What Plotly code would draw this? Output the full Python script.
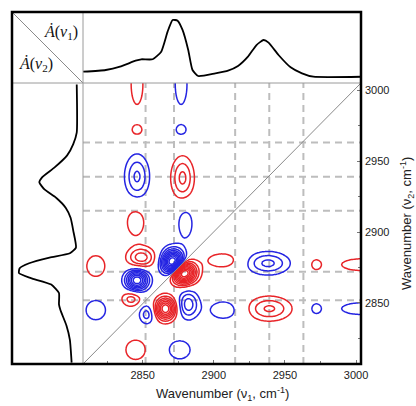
import numpy as np
import plotly.graph_objects as go

# ---------------- data ----------------
# 1D absorbance spectrum (wavenumber, normalised intensity)
spec_wn = [2808, 2824, 2834, 2845, 2849, 2857, 2863, 2867.5, 2871, 2874.5, 2878,
           2882, 2885, 2889, 2901, 2910, 2917, 2924, 2930, 2935, 2938.5, 2945.5,
           2954, 2962, 2970, 3004]
spec_int = [0.093, 0.123, 0.181, 0.286, 0.311, 0.311, 0.444, 0.795, 1.0, 0.988, 0.825,
            0.474, 0.123, 0.018, 0.065, 0.111, 0.193, 0.356, 0.561, 0.649, 0.602, 0.386,
            0.170, 0.065, 0.005, 0.005]

# asynchronous cross peaks (upper triangle, nu2 > nu1); mirrored with opposite sign
peak_nu1 = [2846, 2877, 2846, 2877, 2846, 2878, 2845, 2880, 2817, 2849, 2871.5, 2846, 2842, 2817]
peak_nu2 = [3004, 3004, 2972, 2972, 2939, 2938, 2907, 2906, 2876, 2882, 2877.5, 2866, 2853, 2845]
peak_amp = [1.8, -1.8, 1.5, -1.5, -3.2, 3.3, 1.6, -1.6, 1.6, 3.6, -13.0, -8.0, 2.5, -1.6]
peak_w1 = [3.8, 3.8, 3.6, 3.6, 5.8, 5.4, 6.0, 4.8, 6.5, 6.8, 5.2, 5.3, 5.0, 7.0]
peak_w2 = [13, 13, 3.4, 3.4, 10.5, 10.2, 9.5, 10, 7.5, 5.0, 6.2, 4.8, 4.0, 7.0]

grid_nu = [2852, 2872, 2915, 2939, 2963]
tick_vals = [2850, 2900, 2950, 3000]

# ---------------- 2D map ----------------
nu = np.arange(2800, 3020.01, 1.0)
X, Y = np.meshgrid(nu, nu)
Z = np.zeros_like(X)
for a, b, A, w1, w2 in zip(peak_nu1, peak_nu2, peak_amp, peak_w1, peak_w2):
    Z += A * np.exp(-((X - a) ** 2) / (2 * w1 ** 2) - ((Y - b) ** 2) / (2 * w2 ** 2))
    Z -= A * np.exp(-((Y - a) ** 2) / (2 * w1 ** 2) - ((X - b) ** 2) / (2 * w2 ** 2))

RED = "rgb(232,36,40)"
BLUE = "rgb(36,36,226)"
W, H = 416, 406


def fx(px):
    return px / W


def fy(py):
    return 1 - py / H


fig = go.Figure()
fig.add_trace(go.Contour(x=nu, y=nu, z=Z, contours=dict(coloring="none", start=1, end=15, size=1),
                         line=dict(color=RED, width=1.5), showscale=False, hoverinfo="skip"))
fig.add_trace(go.Contour(x=nu, y=nu, z=-Z, contours=dict(coloring="none", start=1, end=15, size=1),
                         line=dict(color=BLUE, width=1.5), showscale=False, hoverinfo="skip"))
fig.add_trace(go.Scatter(x=spec_wn, y=spec_int, mode="lines", xaxis="x2", yaxis="y2",
                         line=dict(color="black", width=1.8, shape="spline", smoothing=0.5)))
fig.add_trace(go.Scatter(x=spec_int, y=spec_wn, mode="lines", xaxis="x3", yaxis="y3",
                         line=dict(color="black", width=1.8, shape="spline", smoothing=0.5)))

xr = [2808, 3003.5]
yr = [2807, 3005]
main_x = [fx(83), fx(361)]
main_y = [fy(364), fy(83)]
minor = dict(dtick=25, tick0=2800, ticks="inside", ticklen=3, tickcolor="#777")

fig.update_layout(
    width=W, height=H, margin=dict(l=0, r=0, t=0, b=0),
    paper_bgcolor="white", plot_bgcolor="white", showlegend=False,
    font=dict(family="Liberation Sans, Arial, sans-serif", color="#222"),
    xaxis=dict(domain=main_x, range=xr, anchor="y", tickmode="array", tickvals=tick_vals,
               ticks="inside", ticklen=4, tickcolor="#777", showgrid=False, zeroline=False,
               showline=False, tickfont=dict(size=11), automargin=False, ticklabelstandoff=3,
               minor=minor),
    yaxis=dict(domain=main_y, range=yr, anchor="x", side="right", tickmode="array", tickvals=tick_vals,
               ticks="inside", ticklen=4, tickcolor="#777", showgrid=False,
               zeroline=False, showline=False, tickfont=dict(size=11), automargin=False,
               ticklabelstandoff=3, minor=minor),
    xaxis2=dict(domain=main_x, range=xr, anchor="y2", showticklabels=False, ticks="",
                showgrid=False, zeroline=False, automargin=False),
    yaxis2=dict(domain=[fy(83), fy(12)], range=[-0.105, 1.14], anchor="x2", showticklabels=False,
                ticks="", showgrid=False, zeroline=False, automargin=False),
    xaxis3=dict(domain=[fx(12), fx(83)], range=[1.12, -0.103], anchor="y3", showticklabels=False,
                ticks="", showgrid=False, zeroline=False, automargin=False),
    yaxis3=dict(domain=main_y, range=yr, anchor="x3", showticklabels=False, ticks="",
                showgrid=False, zeroline=False, automargin=False),
)

shapes = []
for g in grid_nu:
    shapes.append(dict(type="line", xref="x", yref="y domain", x0=g, x1=g, y0=0, y1=1, layer="below",
                       line=dict(color="#bdbdbd", width=2, dash="7px,5px")))
    shapes.append(dict(type="line", xref="x domain", yref="y", x0=0, x1=1, y0=g, y1=g, layer="below",
                       line=dict(color="#bdbdbd", width=2, dash="7px,5px")))
shapes.append(dict(type="line", xref="x domain", yref="y domain", x0=0, y0=0, x1=1, y1=1,
                   line=dict(color="#8a8a8a", width=1)))
shapes.append(dict(type="line", xref="paper", yref="paper", x0=fx(12), y0=fy(12), x1=fx(83), y1=fy(83),
                   line=dict(color="#8a8a8a", width=1)))
shapes.append(dict(type="line", xref="paper", yref="paper", x0=fx(83), y0=fy(12), x1=fx(83), y1=fy(364),
                   line=dict(color="#9a9a9a", width=1)))
shapes.append(dict(type="line", xref="paper", yref="paper", x0=fx(12), y0=fy(83), x1=fx(361), y1=fy(83),
                   line=dict(color="#9a9a9a", width=1)))
shapes.append(dict(type="rect", xref="paper", yref="paper", x0=fx(12), y0=fy(364), x1=fx(361), y1=fy(12),
                   line=dict(color="black", width=2.5)))
fig.update_layout(shapes=shapes)

ann = dict(xref="paper", yref="paper", showarrow=False, xanchor="center", yanchor="middle")
fig.add_annotation(x=fx(222), y=fy(394), text="Wavenumber (ν<sub>1</sub>, cm<sup>-1</sup>)",
                   font=dict(size=13, color="#222"), **ann)
fig.add_annotation(x=fx(407), y=fy(224), textangle=-90,
                   text="Wavenumber (ν<sub>2</sub>, cm<sup>-1</sup>)", font=dict(size=13, color="#222"), **ann)
fig.add_annotation(x=fx(61), y=fy(33), text="<i>Ȧ</i>(<i>ν</i><sub>1</sub>)",
                   font=dict(family="Liberation Serif, DejaVu Serif, serif", size=16, color="#111"), **ann)
fig.add_annotation(x=fx(36), y=fy(64), text="<i>Ȧ</i>(<i>ν</i><sub>2</sub>)",
                   font=dict(family="Liberation Serif, DejaVu Serif, serif", size=16, color="#111"), **ann)

fig.write_html("out.html")
